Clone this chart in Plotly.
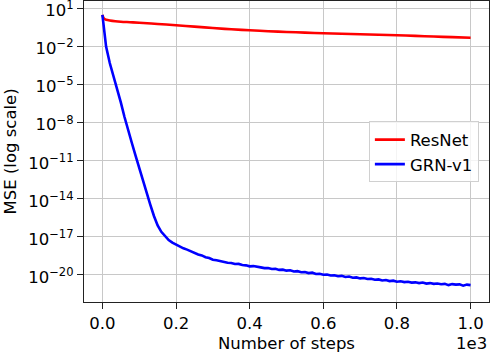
import numpy as np
import plotly.graph_objects as go

# ---- data ----
resnet_steps = [0, 3, 6, 10, 20, 35, 50, 75, 100, 150, 200, 250, 300, 350, 400, 450, 500,
                550, 600, 650, 700, 750, 800, 850, 900, 950, 1000]
resnet_log10_mse = [0.49, 0.25, 0.17, 0.12, 0.06, 0.0, -0.04, -0.08, -0.12, -0.22, -0.32,
                    -0.43, -0.54, -0.64, -0.72, -0.79, -0.85, -0.9, -0.95, -0.99, -1.03,
                    -1.07, -1.11, -1.16, -1.21, -1.26, -1.31]

grn_steps = [0, 5] + list(range(10, 1001, 10))
grn_log10_mse = [0.49, -0.8, -2.0, -3.3, -4.3, -5.25, -6.4, -7.55, -8.65, -9.6, -10.6, -11.6,
                 -12.55, -13.5, -14.45, -15.35, -16.1, -16.6, -16.95, -17.25, -17.45, -17.62,
                 -17.76, -17.9, -18.0, -18.14, -18.24, -18.38, -18.46, -18.6, -18.66, -18.8,
                 -18.84, -18.92, -18.96, -19.04, -19.06, -19.14, -19.13, -19.22, -19.24, -19.32,
                 -19.3, -19.38, -19.4, -19.46, -19.45, -19.53, -19.51, -19.6, -19.58, -19.66,
                 -19.63, -19.73, -19.7, -19.78, -19.77, -19.85, -19.82, -19.92, -19.9, -19.98,
                 -19.96, -20.04, -20.02, -20.1, -20.07, -20.16, -20.12, -20.22, -20.19, -20.27,
                 -20.24, -20.32, -20.3, -20.38, -20.35, -20.43, -20.4, -20.48, -20.45, -20.53,
                 -20.5, -20.56, -20.54, -20.6, -20.58, -20.64, -20.6, -20.68, -20.64, -20.7,
                 -20.67, -20.73, -20.7, -20.8, -20.72, -20.76, -20.74, -20.84, -20.76, -20.8]

x_tick_vals = [0, 200, 400, 600, 800, 1000]
x_tick_text = ["0.0", "0.2", "0.4", "0.6", "0.8", "1.0"]
y_tick_exps = [1, -2, -5, -8, -11, -14, -17, -20]

FONT = "DejaVu Sans"
FS = 16.5
fig = go.Figure()
fig.add_trace(go.Scatter(x=resnet_steps, y=np.power(10.0, resnet_log10_mse), mode="lines",
                         name="ResNet", line=dict(color="#ff0000", width=2.6, shape="spline")))
fig.add_trace(go.Scatter(x=grn_steps, y=np.power(10.0, grn_log10_mse), mode="lines",
                         name="GRN-v1", line=dict(color="#0000ff", width=2.6)))

def exp_label(e):
    s = str(e).replace("-", "\u2212")
    return f"10<sup>{s}</sup>"

axis_common = dict(showgrid=True, gridcolor="#c8c8c8", gridwidth=1.3, zeroline=False,
                   showline=True, linecolor="#222222", linewidth=1.3, mirror=True,
                   ticks="outside", ticklen=6, tickcolor="#222222", tickwidth=1.3,
                   automargin=False, tickfont=dict(family=FONT, size=FS, color="black"))

fig.update_layout(
    width=492, height=354,
    margin=dict(l=84, r=3, t=1, b=52, autoexpand=False),
    paper_bgcolor="white", plot_bgcolor="white",
    font=dict(family=FONT, size=FS, color="black"),
    showlegend=True,
    legend=dict(x=0.975, y=0.6, xanchor="right", yanchor="top",
                bgcolor="rgba(255,255,255,0.8)", bordercolor="#d0d0d0", borderwidth=1,
                font=dict(family=FONT, size=FS), tracegroupgap=0),
    xaxis=dict(range=[-50, 1050], tickvals=x_tick_vals, ticktext=x_tick_text, **axis_common),
    yaxis=dict(type="log", range=[-22.13, 1.59],
               tickvals=[10.0 ** e for e in y_tick_exps],
               ticktext=[exp_label(e) for e in y_tick_exps],
               ticklabeloverflow="allow", ticklabelshift=2, **axis_common),
    annotations=[
        dict(text="Number of steps", xref="paper", yref="paper", x=0.5, y=0, yshift=-41.5,
             xanchor="center", yanchor="middle", showarrow=False,
             font=dict(family=FONT, size=FS)),
        dict(text="MSE (log scale)", xref="paper", yref="paper", x=0, y=0.5, xshift=-74,
             textangle=-90, xanchor="center", yanchor="middle", showarrow=False,
             font=dict(family=FONT, size=FS)),
        dict(text="1e3", xref="paper", yref="paper", x=1.0, y=0, yshift=-41.5,
             xanchor="right", yanchor="middle", showarrow=False,
             font=dict(family=FONT, size=FS)),
    ],
)

fig.write_html("out.html", config={"displayModeBar": False},
               post_script="document.body.style.margin='0';document.body.style.overflow='hidden';")
